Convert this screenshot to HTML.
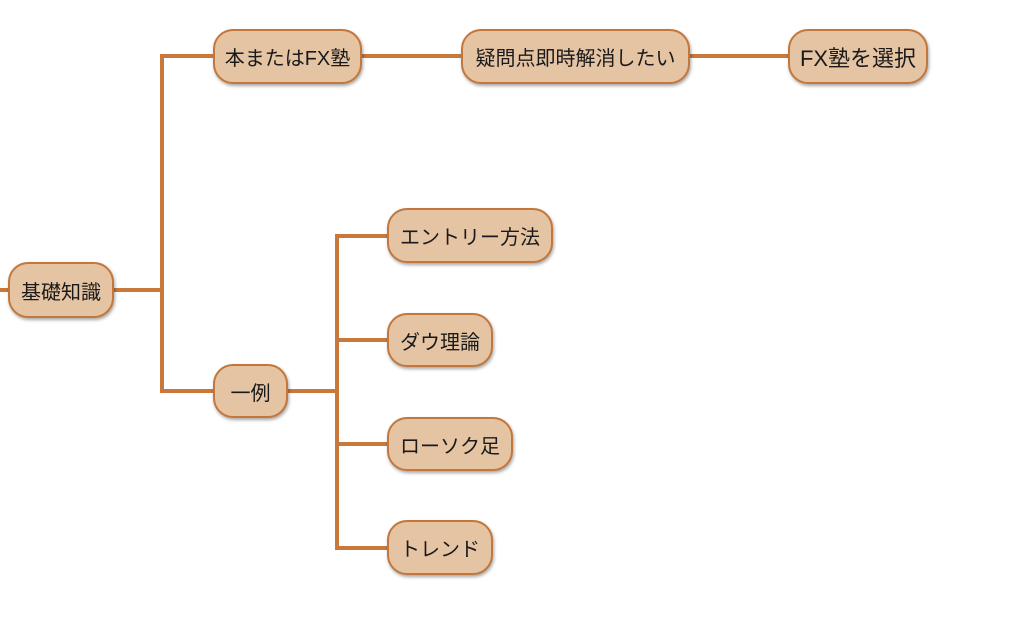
<!DOCTYPE html>
<html><head><meta charset="utf-8"><style>
body{margin:0;width:1024px;height:623px;background:#fff;position:relative;overflow:hidden;font-family:"Liberation Sans","Noto Sans CJK JP",sans-serif}
.n{position:absolute;box-sizing:border-box;background:#e5c4a4;border:2px solid #c4773a;border-radius:20px;display:flex;align-items:center;justify-content:center;font-size:20px;color:#1a1a1a;box-shadow:1px 2px 3px rgba(0,0,0,.35);white-space:nowrap}
.l{position:absolute;background:#c8783a}
</style></head><body>
<div class="l" style="left:0;top:288px;width:10px;height:4px"></div>
<div class="l" style="left:112px;top:288px;width:52px;height:4px"></div>
<div class="l" style="left:160px;top:54px;width:4px;height:339px"></div>
<div class="l" style="left:160px;top:54px;width:55px;height:4px"></div>
<div class="l" style="left:160px;top:389px;width:55px;height:4px"></div>
<div class="l" style="left:360px;top:54px;width:103px;height:4px"></div>
<div class="l" style="left:688px;top:54px;width:102px;height:4px"></div>
<div class="l" style="left:286px;top:389px;width:53px;height:4px"></div>
<div class="l" style="left:335px;top:234px;width:4px;height:316px"></div>
<div class="l" style="left:335px;top:234px;width:54px;height:4px"></div>
<div class="l" style="left:335px;top:338px;width:54px;height:4px"></div>
<div class="l" style="left:335px;top:442px;width:54px;height:4px"></div>
<div class="l" style="left:335px;top:546px;width:54px;height:4px"></div>
<div class="n" style="left:8px;top:262px;width:106px;height:56px">基礎知識</div>
<div class="n" style="left:213px;top:29px;width:149px;height:55px">本またはFX塾</div>
<div class="n" style="left:461px;top:29px;width:229px;height:55px">疑問点即時解消したい</div>
<div class="n" style="left:788px;top:29px;width:140px;height:55px;font-size:22px">FX塾を選択</div>
<div class="n" style="left:213px;top:364px;width:75px;height:54px">一例</div>
<div class="n" style="left:387px;top:208px;width:166px;height:55px">エントリー方法</div>
<div class="n" style="left:387px;top:313px;width:106px;height:54px">ダウ理論</div>
<div class="n" style="left:387px;top:417px;width:126px;height:54px">ローソク足</div>
<div class="n" style="left:387px;top:520px;width:106px;height:55px">トレンド</div>
</body></html>
